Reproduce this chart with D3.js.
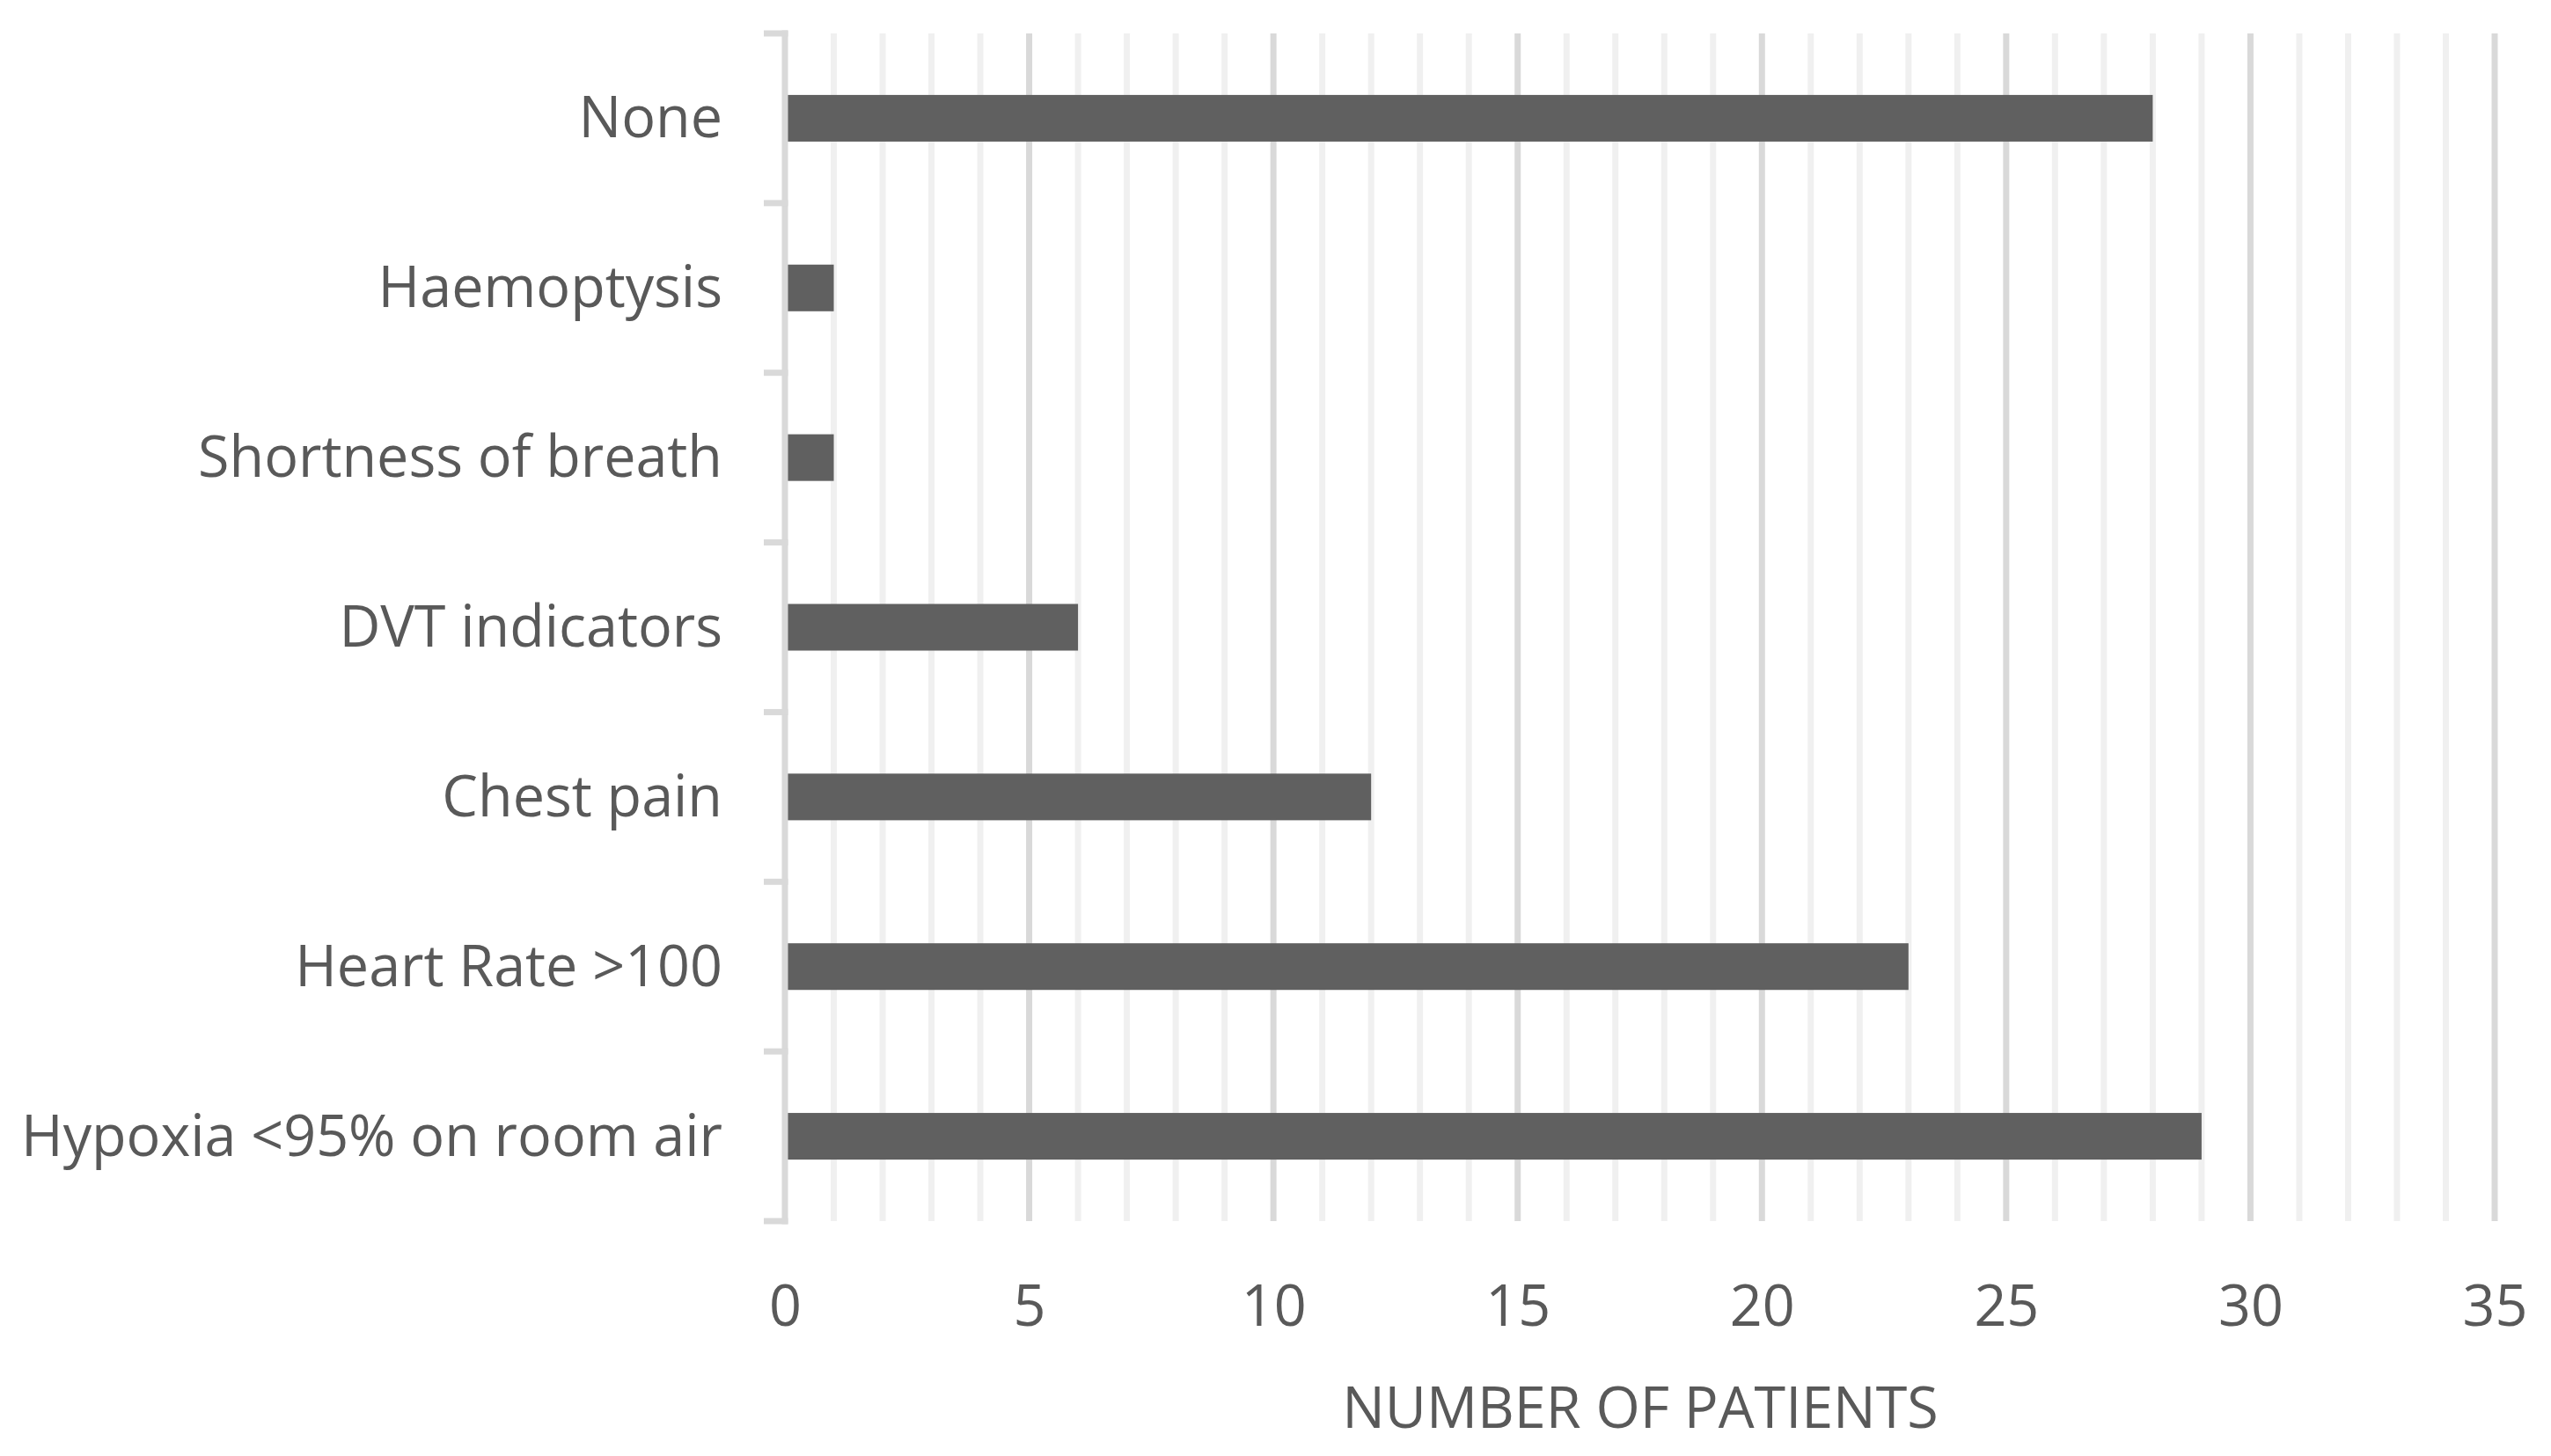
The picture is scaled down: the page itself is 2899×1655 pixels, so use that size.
<!DOCTYPE html>
<html>
<head>
<meta charset="utf-8">
<script src="https://cdn.jsdelivr.net/npm/d3@7"></script>
<style>
  html, body { margin: 0; padding: 0; background: #ffffff; }
  svg { display: block; }
  text { font-family: "Open Sans", "Noto Sans", sans-serif; fill: #595959; }
</style>
</head>
<body>
<svg id="chart" width="2899" height="1655"></svg>
<script>
// ---- data ----
const categories = [
  "None",
  "Haemoptysis",
  "Shortness of breath",
  "DVT indicators",
  "Chest pain",
  "Heart Rate >100",
  "Hypoxia <95% on room air"
];
const patients = [28, 1, 1, 6, 12, 23, 29];
const xTickValues = [0, 5, 10, 15, 20, 25, 30, 35];
const xMax = 35;
const xTitle = "NUMBER OF PATIENTS";

// ---- layout ----
const W = 2899, H = 1655;
const plotL = 892, plotR = 2835, plotT = 38, plotB = 1388;
const fontSize = 66;
const gridColMinor = "#f0f0f0", gridColMajor = "#d9d9d9";
const lineW = 7;

const svg = d3.select("#chart");
svg.append("rect").attr("width", W).attr("height", H).attr("fill", "#fff");

const x = d3.scaleLinear().domain([0, xMax]).range([plotL, plotR]);
const y = d3.scaleBand().domain(categories).range([plotT, plotB]).padding(0);
const barH = y.bandwidth() * 0.275;

// gridlines (minor every 1, major every 5)
const gridVals = d3.range(1, xMax + 1);
svg.append("g").selectAll("line").data(gridVals).join("line")
  .attr("x1", d => x(d)).attr("x2", d => x(d))
  .attr("y1", plotT).attr("y2", plotB)
  .attr("stroke", d => xTickValues.includes(d) ? gridColMajor : gridColMinor)
  .attr("stroke-width", lineW);

// bars
svg.append("g").selectAll("rect").data(categories).join("rect")
  .attr("x", x(0))
  .attr("y", d => y(d) + y.bandwidth() / 2 - barH / 2)
  .attr("width", (d, i) => x(patients[i]) - x(0))
  .attr("height", barH)
  .attr("fill", "#606060");

// y axis line + category boundary ticks
svg.append("line")
  .attr("x1", x(0)).attr("x2", x(0))
  .attr("y1", plotT - lineW / 2).attr("y2", plotB + lineW / 2)
  .attr("stroke", gridColMajor).attr("stroke-width", lineW);
const bounds = categories.map(c => y(c)).concat([plotB]);
svg.append("g").selectAll("line").data(bounds).join("line")
  .attr("x1", x(0) - 24).attr("x2", x(0) + lineW / 2)
  .attr("y1", d => d).attr("y2", d => d)
  .attr("stroke", gridColMajor).attr("stroke-width", lineW);

// category labels
const labels = svg.append("g").selectAll("text").data(categories).join("text")
  .attr("x", 821)
  .attr("y", d => y(d) + y.bandwidth() / 2 + 22)
  .attr("text-anchor", "end")
  .attr("font-size", fontSize)
  .text(d => d);

// x axis labels via d3 axis
const xAxis = d3.axisBottom(x).tickValues(xTickValues).tickSize(0).tickPadding(0)
  .tickFormat(d3.format("d"));
const gx = svg.append("g").attr("transform", `translate(0,${1507})`).call(xAxis);
gx.select(".domain").remove();
gx.attr("font-family", null).attr("font-size", null);
gx.selectAll("text")
  .attr("dy", null).attr("y", 0)
  .attr("font-size", fontSize)
  .style("font-family", '"Open Sans", "Noto Sans", sans-serif')
  .attr("fill", "#595959");

// x title
const title = svg.append("text")
  .attr("x", 1864).attr("y", 1623)
  .attr("text-anchor", "middle")
  .attr("font-size", fontSize)
  .text(xTitle);

// horizontal condensation to match the narrow original typeface
const longest = labels.filter(d => d === categories[categories.length - 1]).node();
const k = 797 / longest.getComputedTextLength();
svg.selectAll("text").each(function () {
  const L = this.getComputedTextLength();
  d3.select(this).attr("textLength", L * k).attr("lengthAdjust", "spacingAndGlyphs");
});
</script>
</body>
</html>
